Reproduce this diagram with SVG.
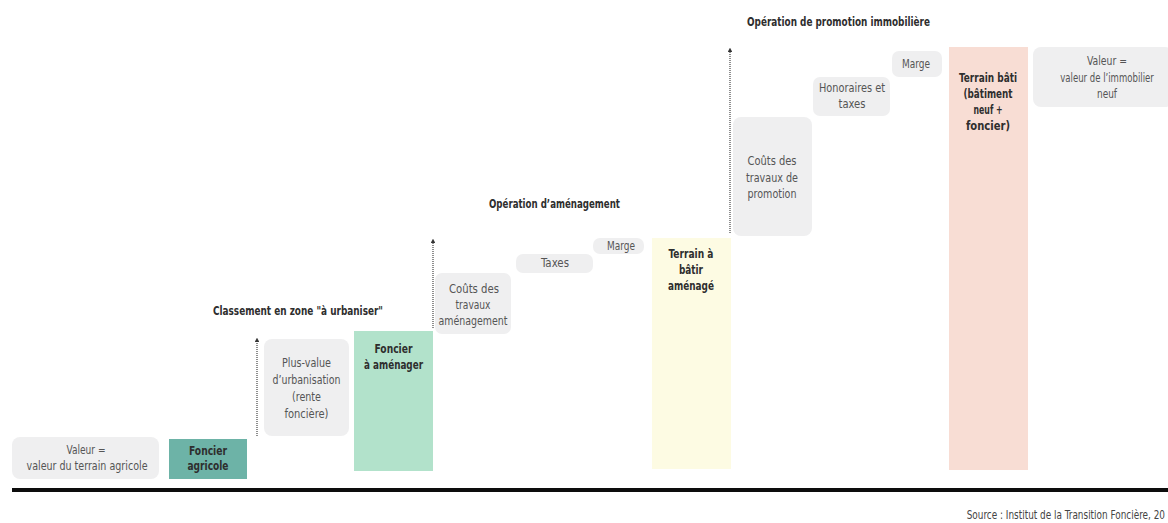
<svg xmlns="http://www.w3.org/2000/svg" width="1168" height="523" viewBox="0 0 1168 523">
<style>
.g{fill:#efeff0}
.t{font-family:"DejaVu Sans Condensed","DejaVu Sans",sans-serif;font-size:12.5px;fill:#555;text-anchor:middle}
.b{font-family:"DejaVu Sans Condensed","DejaVu Sans",sans-serif;font-size:12.5px;font-weight:bold;fill:#2e2e2e;text-anchor:middle}
.h{font-family:"DejaVu Sans Condensed","DejaVu Sans",sans-serif;font-size:11.5px;font-weight:bold;fill:#2e2e2e}
.s{font-family:"DejaVu Sans Condensed","DejaVu Sans",sans-serif;font-size:11.5px;fill:#444;text-anchor:end}
.c{stroke:#444;stroke-width:1.2;stroke-dasharray:1 1;fill:none}
</style>
<defs>
<marker id="ah" viewBox="0 0 6 6" refX="3" refY="3" markerWidth="4" markerHeight="4" orient="auto">
<path d="M0,0 L6,3 L0,6 z" fill="#333"/>
</marker>
</defs>
<rect width="1168" height="523" fill="#fff"/>

<g id="titles">
<text class="h" x="213" y="315" textLength="170" lengthAdjust="spacingAndGlyphs">Classement en zone "à urbaniser"</text>
<text class="h" x="489" y="208" textLength="131" lengthAdjust="spacingAndGlyphs">Opération d’aménagement</text>
<text class="h" x="747" y="26" textLength="183" lengthAdjust="spacingAndGlyphs">Opération de promotion immobilière</text>
</g>

<g id="connectors">
<line class="c" x1="257" y1="436" x2="257" y2="340" marker-end="url(#ah)"/>
<line class="c" x1="433" y1="328" x2="433" y2="241" marker-end="url(#ah)"/>
<line class="c" x1="730" y1="233" x2="730" y2="50" marker-end="url(#ah)"/>
</g>

<g id="valeur-agricole">
<rect class="g" x="12" y="437" width="147" height="42" rx="8"/>
<text class="t" x="86" y="454" textLength="39" lengthAdjust="spacingAndGlyphs">Valeur =</text>
<text class="t" x="87" y="470" textLength="121" lengthAdjust="spacingAndGlyphs">valeur du terrain agricole</text>
</g>

<g id="foncier-agricole">
<rect x="169" y="439" width="78" height="40" fill="#6db3a7"/>
<text class="b" x="208" y="455" textLength="38" lengthAdjust="spacingAndGlyphs">Foncier</text>
<text class="b" x="208" y="470" textLength="41" lengthAdjust="spacingAndGlyphs">agricole</text>
</g>

<g id="plus-value">
<rect class="g" x="264" y="339" width="85" height="97" rx="8"/>
<text class="t" x="306.5" y="367" textLength="49" lengthAdjust="spacingAndGlyphs">Plus-value</text>
<text class="t" x="306.5" y="384" textLength="68" lengthAdjust="spacingAndGlyphs">d’urbanisation</text>
<text class="t" x="306.5" y="401" textLength="29" lengthAdjust="spacingAndGlyphs">(rente</text>
<text class="t" x="306.5" y="418" textLength="44" lengthAdjust="spacingAndGlyphs">foncière)</text>
</g>

<g id="foncier-amenager">
<rect x="354" y="331" width="79" height="140" fill="#b2e2cb"/>
<text class="b" x="393.5" y="353" textLength="38" lengthAdjust="spacingAndGlyphs">Foncier</text>
<text class="b" x="393.5" y="369" textLength="59" lengthAdjust="spacingAndGlyphs">à aménager</text>
</g>

<g id="couts-amenagement">
<rect class="g" x="435" y="273" width="76" height="61" rx="7"/>
<text class="t" x="474" y="293" textLength="50" lengthAdjust="spacingAndGlyphs">Coûts des</text>
<text class="t" x="473" y="309" textLength="35" lengthAdjust="spacingAndGlyphs">travaux</text>
<text class="t" x="473" y="325" textLength="69" lengthAdjust="spacingAndGlyphs">aménagement</text>
</g>

<g id="taxes">
<rect class="g" x="516" y="254" width="77" height="19" rx="7"/>
<text class="t" x="555" y="267" textLength="28" lengthAdjust="spacingAndGlyphs">Taxes</text>
</g>

<g id="marge-amenagement">
<rect class="g" x="593" y="238" width="51" height="16" rx="7"/>
<text class="t" x="621" y="250" textLength="28" lengthAdjust="spacingAndGlyphs">Marge</text>
</g>

<g id="terrain-a-batir">
<rect x="652" y="238" width="79" height="231" fill="#fdfbe3"/>
<text class="b" x="691" y="258" textLength="45" lengthAdjust="spacingAndGlyphs">Terrain à</text>
<text class="b" x="691" y="274" textLength="24" lengthAdjust="spacingAndGlyphs">bâtir</text>
<text class="b" x="691" y="290" textLength="46" lengthAdjust="spacingAndGlyphs">aménagé</text>
</g>

<g id="couts-promotion">
<rect class="g" x="733" y="117" width="79" height="119" rx="8"/>
<text class="t" x="772" y="165" textLength="49" lengthAdjust="spacingAndGlyphs">Coûts des</text>
<text class="t" x="772" y="182" textLength="52" lengthAdjust="spacingAndGlyphs">travaux de</text>
<text class="t" x="772" y="198" textLength="49" lengthAdjust="spacingAndGlyphs">promotion</text>
</g>

<g id="honoraires">
<rect class="g" x="813" y="77" width="77" height="39" rx="7"/>
<text class="t" x="852" y="92" textLength="66" lengthAdjust="spacingAndGlyphs">Honoraires et</text>
<text class="t" x="852" y="108" textLength="27" lengthAdjust="spacingAndGlyphs">taxes</text>
</g>

<g id="marge-promotion">
<rect class="g" x="892" y="51" width="50" height="26" rx="7"/>
<text class="t" x="916" y="68" textLength="28" lengthAdjust="spacingAndGlyphs">Marge</text>
</g>

<g id="terrain-bati">
<rect x="949" y="47" width="79" height="423" fill="#f8ddd4"/>
<text class="b" x="988" y="82" textLength="58" lengthAdjust="spacingAndGlyphs">Terrain bâti</text>
<text class="b" x="988" y="98" textLength="49" lengthAdjust="spacingAndGlyphs">(bâtiment</text>
<text class="b" x="988" y="114" textLength="29" lengthAdjust="spacingAndGlyphs">neuf +</text>
<text class="b" x="988" y="130" textLength="44" lengthAdjust="spacingAndGlyphs">foncier)</text>
</g>

<g id="valeur-immobilier">
<rect class="g" x="1033" y="47" width="140" height="60" rx="8"/>
<text class="t" x="1107" y="65" textLength="40" lengthAdjust="spacingAndGlyphs">Valeur =</text>
<text class="t" transform="translate(1107,82) scale(0.76,1)">valeur de l’immobilier</text>
<text class="t" x="1107" y="98" textLength="20" lengthAdjust="spacingAndGlyphs">neuf</text>
</g>

<rect id="baseline" x="12" y="488" width="1160" height="4" fill="#0d0d0d"/>

<text class="s" transform="translate(1165,519) scale(0.86,1)">Source : Institut de la Transition Foncière, 20</text>
</svg>
